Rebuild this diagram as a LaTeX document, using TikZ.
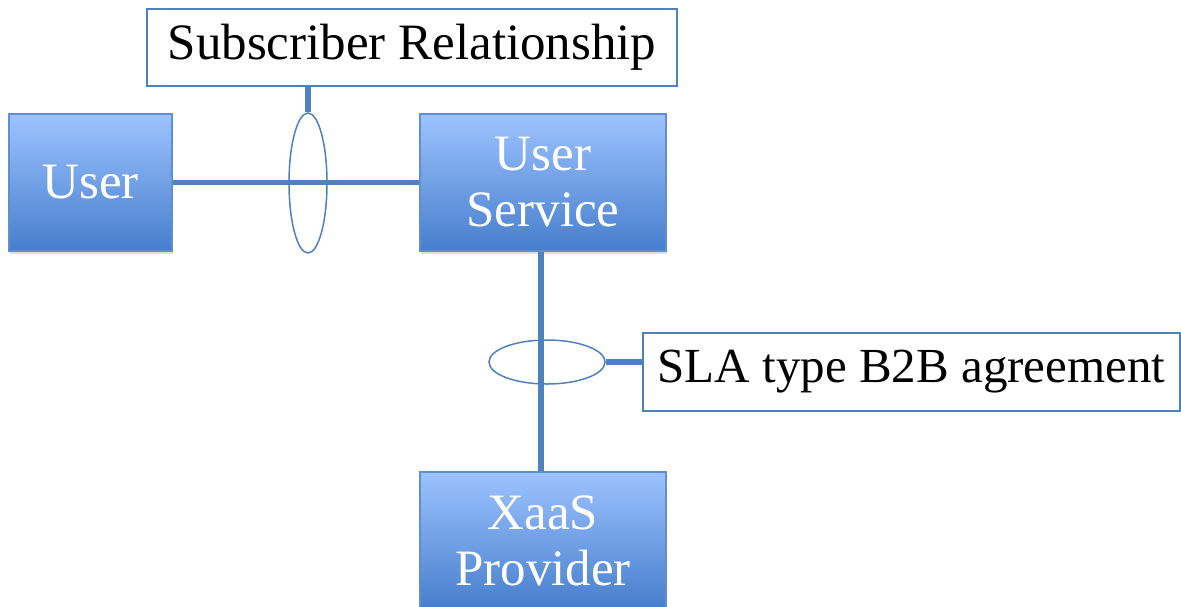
\documentclass[tikz,border=0pt]{standalone}
\usepackage{fontspec}
\setmainfont{Liberation Serif}
\usetikzlibrary{shapes.geometric,shadows}
\definecolor{linkblue}{RGB}{79,129,189}
\definecolor{boxtop}{RGB}{157,195,255}
\definecolor{boxbottom}{RGB}{70,126,204}
\definecolor{boxedge}{RGB}{96,143,205}
\begin{document}
\begin{tikzpicture}[x=1pt,y=-1pt,
  bigfont/.style={font=\fontsize{51}{56}\selectfont},
  entity/.style={rectangle, draw=boxedge, line width=1.5pt,
    top color=boxtop, bottom color=boxbottom, text=white,
    align=center, inner sep=0pt, bigfont,
    drop shadow={opacity=0.25, shadow xshift=1pt, shadow yshift=-3pt}},
  tag/.style={rectangle, draw=linkblue, line width=1.5pt, fill=white,
    text=black, inner sep=0pt, bigfont},
  ring/.style={ellipse, draw=linkblue, line width=1.5pt, inner sep=0pt},
  link/.style={draw=linkblue, line width=5.5pt}]
\useasboundingbox (0,0) rectangle (1181,606);
\clip (0,0) rectangle (1181,606);

% entities
\node[entity, minimum width=163, minimum height=137] (user) at (90.5,182.5) {User};
\node[entity, minimum width=246, minimum height=137] (usvc) at (543,182.5) {User\\Service};
\node[entity, minimum width=246, minimum height=137] (xaas) at (543,540.5) {XaaS\\Provider};

% relationship labels
\node[tag, minimum width=530, minimum height=77] (subtag) at (412,47.5) {Subscriber Relationship};
\node[tag, minimum width=537, minimum height=78, font=\fontsize{49}{56}\selectfont] (slatag) at (911.5,372) {SLA type B2B agreement};

% connectors
\path[link] (user.east) -- (usvc.west);
\path[link] ([xshift=-2]usvc.south) -- ([xshift=-2]xaas.north);

% rings grouping the links
\node[ring, minimum width=38, minimum height=140] (subring) at (308,183) {};
\node[ring, minimum width=116, minimum height=44] (slaring) at (547,362) {};

% leaders from rings to their labels
\path[link] (subring.north) -- (subring.north |- subtag.south);
\path[link] (slaring.east) -- (slaring.east -| slatag.west);
\end{tikzpicture}
\end{document}
